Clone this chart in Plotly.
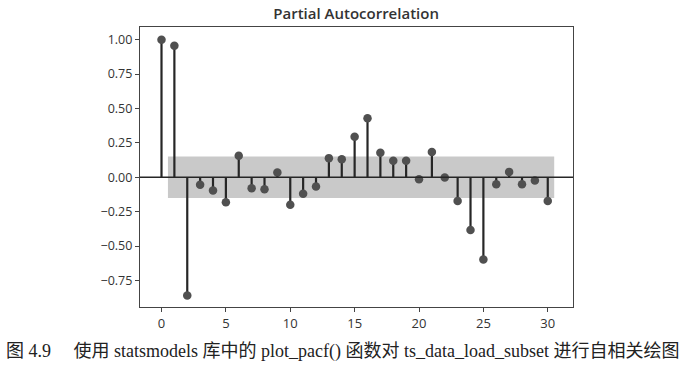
import plotly.graph_objects as go

lags = list(range(31))
pacf = [1.00, 0.955, -0.86, -0.055, -0.097, -0.182, 0.156, -0.08, -0.087, 0.034,
        -0.20, -0.12, -0.068, 0.139, 0.131, 0.295, 0.428, 0.178, 0.12, 0.12,
        -0.015, 0.183, -0.002, -0.172, -0.384, -0.598, -0.051, 0.039, -0.051, -0.024,
        -0.172]
conf = 0.15
band_x = [0.5, 30.5]
title = "Partial Autocorrelation"
caption = "图 4.9\u3000 使用 statsmodels 库中的 plot_pacf() 函数对 ts_data_load_subset 进行自相关绘图"
xticks = [0, 5, 10, 15, 20, 25, 30]
yticks = [1.0, 0.75, 0.5, 0.25, 0.0, -0.25, -0.5, -0.75]

W, H = 685, 368
L, R, T, B = 139.5, 572.7, 26.7, 306.7

fig = go.Figure()

# confidence band
fig.add_trace(go.Scatter(
    x=[band_x[0], band_x[1], band_x[1], band_x[0], band_x[0]],
    y=[conf, conf, -conf, -conf, conf],
    mode="lines", fill="toself", fillcolor="#c9c9c9",
    line=dict(width=0), hoverinfo="skip", showlegend=False))

# stems
sx, sy = [], []
for lag, v in zip(lags, pacf):
    sx += [lag, lag, None]
    sy += [0, v, None]
fig.add_trace(go.Scatter(x=sx, y=sy, mode="lines",
                         line=dict(color="#262626", width=2.2),
                         hoverinfo="skip", showlegend=False))

# zero line
fig.add_hline(y=0, line=dict(color="#262626", width=1.6))

# markers
fig.add_trace(go.Scatter(x=lags, y=pacf, mode="markers",
                         marker=dict(color="#505050", size=8.5),
                         showlegend=False))

fig.update_layout(
    width=W, height=H,
    margin=dict(l=L, r=W - R, t=T, b=H - B),
    paper_bgcolor="white", plot_bgcolor="white",
    font=dict(family="Open Sans", color="#333333", size=12),
    title=dict(text=title, x=(L + R) / 2 / W, xanchor="center",
               y=1 - 13.5 / H, yanchor="middle",
               font=dict(size=15, color="#333333", family="Open Sans", weight=600)),
)
fig.update_xaxes(range=[-1.67, 31.96], tickvals=xticks, ticktext=[str(t) for t in xticks],
                 showgrid=False, zeroline=False, showline=True, mirror=True,
                 linecolor="#444444", linewidth=1.2, ticks="outside", ticklen=4,
                 tickcolor="#444444", tickfont=dict(size=13, color="#333333"))
fig.update_yaxes(range=[-0.943, 1.092], tickvals=yticks,
                 ticktext=[("\u2212" if t < 0 else "") + f"{abs(t):.2f}" for t in yticks],
                 showgrid=False, zeroline=False, showline=True, mirror=True,
                 linecolor="#444444", linewidth=1.2, ticks="outside", ticklen=4,
                 tickcolor="#444444", tickfont=dict(size=12.5, color="#333333"))

fig.add_annotation(text=caption, xref="paper", yref="paper",
                   x=(342.5 - L) / (R - L), y=-(351 - B) / (B - T),
                   xanchor="center", yanchor="middle", showarrow=False,
                   font=dict(family="Liberation Serif, Noto Sans CJK SC", size=18, color="#222222"))

fig.write_html("out.html", config={"displayModeBar": False},
               post_script="document.body.style.margin='0';")
